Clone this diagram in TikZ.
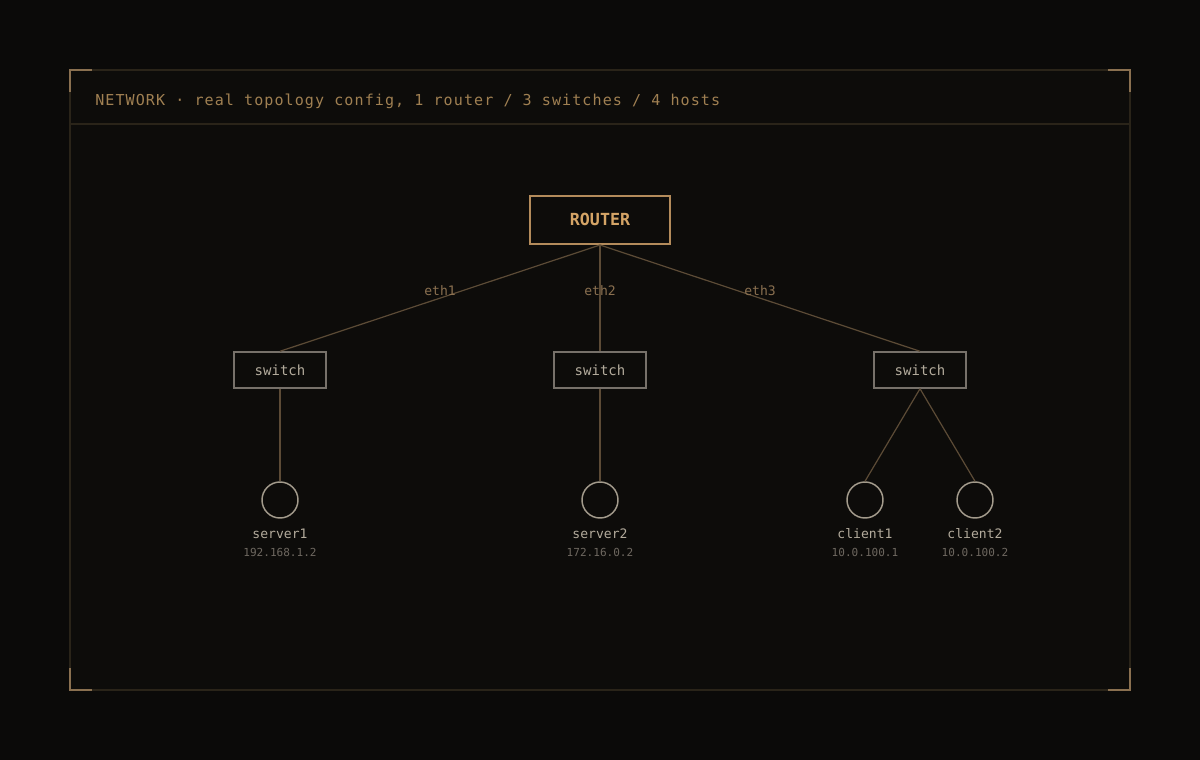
\documentclass[tikz,border=0pt]{standalone}
\usepackage{fontspec}
\setmonofont{DejaVu Sans Mono}
\newfontfamily\titlefont[LetterSpace=7.1]{DejaVu Sans Mono}
\definecolor{bg}{HTML}{0B0A09}
\definecolor{panel}{HTML}{0D0C0A}
\definecolor{frame}{HTML}{2A2419}
\definecolor{corner}{HTML}{8A7050}
\definecolor{title}{HTML}{A08052}
\definecolor{router}{HTML}{B38B5B}
\definecolor{routertext}{HTML}{D4A466}
\definecolor{gray}{HTML}{77716A}
\definecolor{label}{HTML}{B3AB9C}
\definecolor{ip}{HTML}{6E6860}
\definecolor{wire}{HTML}{5C4B36}
\definecolor{eth}{HTML}{8A7050}
\definecolor{hostc}{HTML}{A39B8C}
\tikzset{
  routerbox/.style={draw=router, line width=1.5pt, fill=panel, minimum width=105pt, minimum height=36pt, inner sep=0pt, text=routertext, font=\ttfamily\bfseries\fontsize{12.5}{14}\selectfont},
  switchbox/.style={draw=gray, line width=1.1pt, fill=panel, minimum width=69pt, minimum height=27pt, inner sep=0pt, text=label, font=\ttfamily\fontsize{10.5}{12}\selectfont},
  hostnode/.style={draw=hostc, line width=1.1pt, circle, minimum size=27pt, inner sep=0pt},
  wireline/.style={draw=wire, line width=0.9pt},
  ethlabel/.style={text=eth, font=\ttfamily\fontsize{9.8}{11}\selectfont},
  namelabel/.style={text=label, font=\ttfamily\fontsize{9.8}{11}\selectfont},
  iplabel/.style={text=ip, font=\ttfamily\fontsize{8.3}{10}\selectfont},
  cornerline/.style={draw=corner, line width=1.3pt},
}
\begin{document}
\begin{tikzpicture}[x=0.75pt,y=-0.75pt]
\fill[bg] (0,0) rectangle (1200,760);
\useasboundingbox (0,0) rectangle (1200,760);
\fill[panel] (70,70) rectangle (1130,690);
\draw[frame, line width=1pt] (70,70) rectangle (1130,690);
\draw[frame, line width=1.2pt] (70,124) -- (1130,124);
% corners
\draw[cornerline] (70,92) -- (70,70) -- (92,70);
\draw[cornerline] (1108,70) -- (1130,70) -- (1130,92);
\draw[cornerline] (70,668) -- (70,690) -- (92,690);
\draw[cornerline] (1108,690) -- (1130,690) -- (1130,668);
% title
\node[anchor=west, text=title, font=\titlefont\fontsize{11.3}{13}\selectfont, inner sep=0pt] (ttl) at (95,101) {NETWORK · real topology config, 1 router / 3 switches / 4 hosts};
% nodes
\node[routerbox] (r) at (600,220) {\raisebox{0.8pt}{ROUTER}};
\node[switchbox] (s1) at (280,370) {switch};
\node[switchbox] (s2) at (600,370) {switch};
\node[switchbox] (s3) at (920,370) {switch};
\node[hostnode] (h1) at (280,500) {};
\node[hostnode] (h2) at (600,500) {};
\node[hostnode] (h3) at (865,500) {};
\node[hostnode] (h4) at (975,500) {};
% wires
\draw[wireline] (r.south) -- (s1.north);
\draw[wireline] (r.south) -- (s2.north);
\draw[wireline] (r.south) -- (s3.north);
\draw[wireline] (s1.south) -- (h1.north);
\draw[wireline] (s2.south) -- (h2.north);
\draw[wireline] (s3.south) -- (h3.north);
\draw[wireline] (s3.south) -- (h4.north);
% eth labels
\node[ethlabel] (e1) at (440,291) {eth1};
\node[ethlabel] (e2) at (600,291) {eth2};
\node[ethlabel] (e3) at (760,291) {eth3};
% host labels
\node[namelabel] (n1) at (280,534) {server1};
\node[iplabel] (i1) at (280,552) {192.168.1.2};
\node[namelabel] (n2) at (600,534) {server2};
\node[iplabel] (i2) at (600,552) {172.16.0.2};
\node[namelabel] (n3) at (865,534) {client1};
\node[iplabel] (i3) at (865,552) {10.0.100.1};
\node[namelabel] (n4) at (975,534) {client2};
\node[iplabel] (i4) at (975,552) {10.0.100.2};
\end{tikzpicture}
\end{document}
